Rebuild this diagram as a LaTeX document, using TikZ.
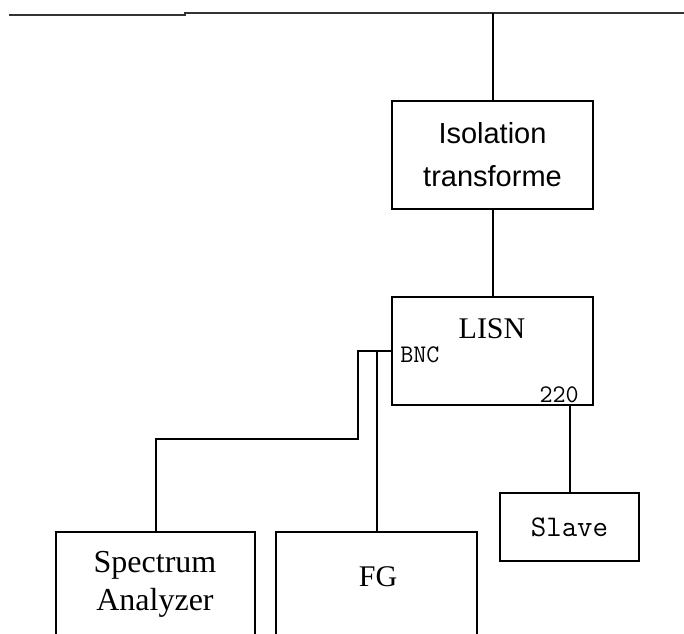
\documentclass[tikz,border=0pt]{standalone}
\usepackage{fontspec}
\setmainfont{Liberation Serif}
\newfontfamily\boxsans{Liberation Sans}
\newfontfamily\boxmono{Latin Modern Mono}
\usetikzlibrary{calc,positioning}

\begin{document}
\begin{tikzpicture}[x=0.75pt,y=-0.75pt,
    unit/.style={draw,line width=1.5pt,inner sep=0pt},
    wire/.style={line width=1.5pt},
    mains/.style={line width=2.2pt,draw=black!80}]
  \clip (0,0) rectangle (684,634);
  \useasboundingbox (0,0) rectangle (684,634);

  % Linea de red
  \coordinate (m0) at (9,15);
  \coordinate (m1) at (185,15);
  \coordinate (m2) at (185,13);
  \coordinate (m3) at (684,13);
  \draw[mains] (m0) -- (m1) -- (m2) -- (m3);

  % Transformador de aislamiento
  \node[unit,minimum width=201*0.75,minimum height=108*0.75,align=center,
        font=\boxsans\fontsize{21.75}{32.25}\selectfont] (iso) at (492.5,155)
        {Isolation\\transforme};
  \draw[wire] (iso.north |- m3) -- (iso.north);

  % LISN
  \node[unit,minimum width=201*0.75,minimum height=108*0.75] (lisn) at (492.5,351) {};
  \node[anchor=base,inner sep=0pt,font=\fontsize{22.5}{27}\selectfont] (lisntxt) at (492,338) {LISN};
  \node[anchor=base west,inner sep=0pt,font=\boxmono\fontsize{19}{22}\selectfont] (bnc) at (400,362) {BNC};
  \node[anchor=base east,inner sep=0pt,font=\boxmono\fontsize{19}{22}\selectfont] (v220) at (579,402) {220};
  \draw[wire] (iso.south) -- (lisn.north);

  % Equipos
  \node[unit,minimum width=199*0.75,minimum height=150*0.75,anchor=north] (sa) at (155.5,531) {};
  \node[anchor=base,inner sep=0pt,font=\fontsize{24}{28.5}\selectfont] (satxt) at (155,572) {Spectrum};
  \node[anchor=base,inner sep=0pt,font=\fontsize{24}{28.5}\selectfont] (satxt2) at (155,610) {Analyzer};

  \node[unit,minimum width=201*0.75,minimum height=150*0.75,anchor=north] (fg) at (376.5,531) {};
  \node[anchor=base,inner sep=0pt,font=\fontsize{22.5}{27}\selectfont] (fgtxt) at (378,586) {FG};

  \node[unit,minimum width=139*0.75,minimum height=68*0.75,
        font=\boxmono\fontsize{22.5}{26}\selectfont] (slave) at (569.5,527) {Slave};

  % Cables
  \coordinate (j1) at (358,351);
  \coordinate (j2) at (358,439);
  \draw[wire] (lisn.west) -- (j1) -- (j2) -| (sa.north);
  \draw[wire] (fg.north |- lisn.west) -- (fg.north);
  \draw[wire] (slave.north |- lisn.south) -- (slave.north);
\end{tikzpicture}
\end{document}
